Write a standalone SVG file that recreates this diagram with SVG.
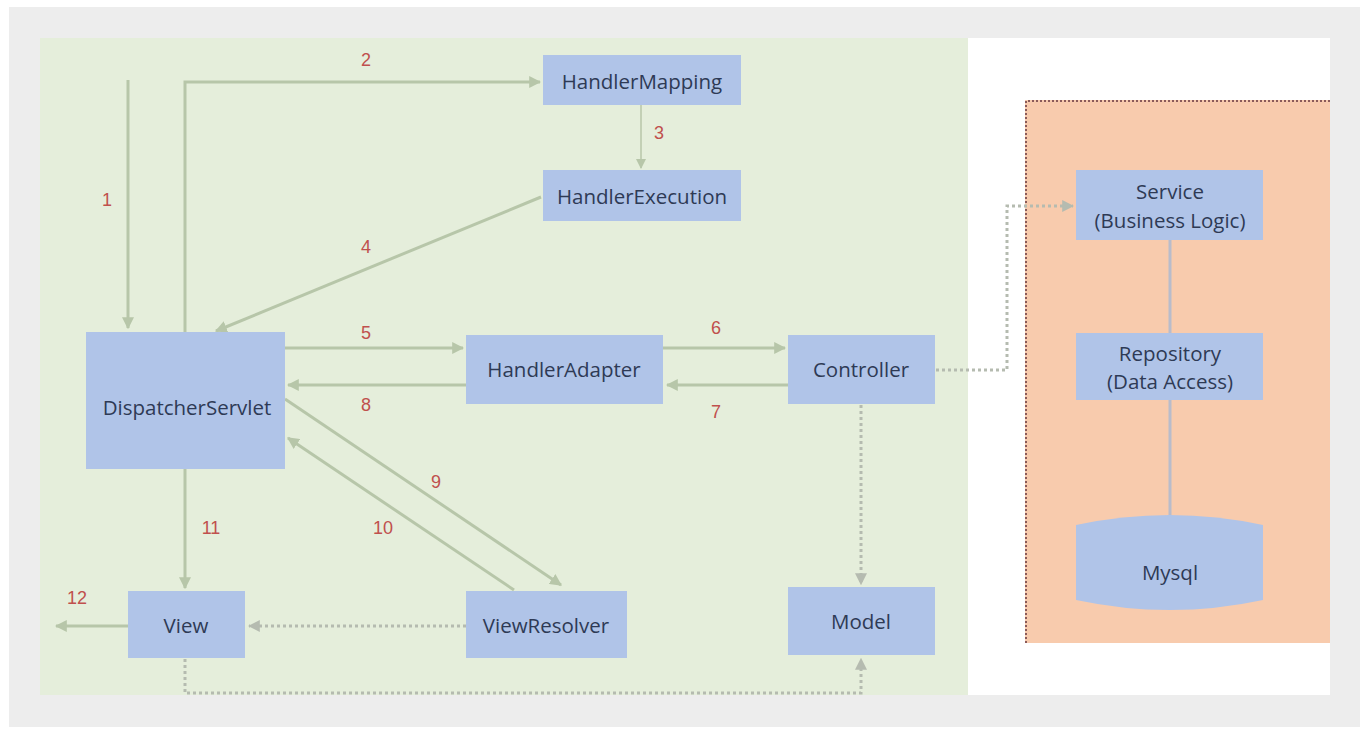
<svg xmlns="http://www.w3.org/2000/svg" width="1365" height="739" viewBox="0 0 1365 739">
<defs>
<style>
.node{fill:#b0c4e8;}
.nt{font-family:"Open Sans","Liberation Sans",sans-serif;font-size:20.5px;fill:#2e3a55;text-anchor:middle;}
.lbl{font-family:"Liberation Sans",sans-serif;font-size:18px;fill:#c0504d;text-anchor:middle;}
.c{stroke:#b7c6a9;stroke-width:3;fill:none;}
.thin{stroke:#b7c6a9;stroke-width:1.5;fill:none;}
.dot{stroke:#b5bbb0;stroke-width:3;stroke-dasharray:3 3;fill:none;}
.link{stroke:#b9bccb;stroke-width:3;fill:none;}
</style>
<marker id="ah" viewBox="0 0 10 10" refX="9" refY="5" markerWidth="4" markerHeight="4" orient="auto" markerUnits="strokeWidth"><path d="M0,0 L10,5 L0,10 z" fill="#b7c6a9"/></marker>
<marker id="ah2" viewBox="0 0 10 10" refX="9" refY="5" markerWidth="7" markerHeight="7" orient="auto" markerUnits="strokeWidth"><path d="M0,0 L10,5 L0,10 z" fill="#b7c6a9"/></marker>
<marker id="ahd" viewBox="0 0 10 10" refX="9" refY="5" markerWidth="4" markerHeight="4" orient="auto" markerUnits="strokeWidth"><path d="M0,0 L10,5 L0,10 z" fill="#b5bbb0"/></marker>
</defs>
<rect width="1365" height="739" fill="#ffffff"/>
<rect x="9" y="7" width="1351" height="720" fill="#ededed"/>
<rect x="40" y="38" width="1290" height="657" fill="#ffffff"/>
<rect x="40" y="38" width="928" height="657" fill="#e5eedb"/>
<g id="backend">
<rect x="1025" y="100" width="305" height="543" fill="#f8cbad"/>
<path d="M1026,643 L1026,101 L1330,101" fill="none" stroke="#8a5a5a" stroke-width="2" stroke-dasharray="2 2"/>
</g>
<g id="connectors">
<path class="c" d="M128,80 L128,328" marker-end="url(#ah)"/>
<path class="c" d="M185,332 L185,82 L540,82" marker-end="url(#ah)"/>
<path class="thin" d="M641,105 L641,168" marker-end="url(#ah2)"/>
<path class="c" d="M541,197 L216,331" marker-end="url(#ah)"/>
<path class="c" d="M285,348 L463,348" marker-end="url(#ah)"/>
<path class="c" d="M663,348 L785,348" marker-end="url(#ah)"/>
<path class="c" d="M788,385 L667,385" marker-end="url(#ah)"/>
<path class="c" d="M466,385 L288,385" marker-end="url(#ah)"/>
<path class="c" d="M285,399 L561,585" marker-end="url(#ah)"/>
<path class="c" d="M514,590 L288,438" marker-end="url(#ah)"/>
<path class="c" d="M185,469 L185,588" marker-end="url(#ah)"/>
<path class="c" d="M128,626 L56,626" marker-end="url(#ah)"/>
<path class="dot" d="M466,626 L249,626" marker-end="url(#ahd)"/>
<path class="dot" d="M185,659 L185,693 L861,693 L861,659" marker-end="url(#ahd)"/>
<path class="dot" d="M861,405 L861,584" marker-end="url(#ahd)"/>
<path class="dot" d="M936,370 L1007,370 L1007,206 L1073,206" marker-end="url(#ahd)"/>
<path class="link" d="M1170,240 L1170,333"/>
<path class="link" d="M1170,400 L1170,518"/>
</g>
<g id="labels">
<text class="lbl" x="107" y="206">1</text>
<text class="lbl" x="366" y="66">2</text>
<text class="lbl" x="659" y="139">3</text>
<text class="lbl" x="366" y="253">4</text>
<text class="lbl" x="366" y="339">5</text>
<text class="lbl" x="716" y="334">6</text>
<text class="lbl" x="716" y="418">7</text>
<text class="lbl" x="366" y="411">8</text>
<text class="lbl" x="436" y="488">9</text>
<text class="lbl" x="383" y="534">10</text>
<text class="lbl" x="211" y="534">11</text>
<text class="lbl" x="77" y="604">12</text>
</g>
<g id="HandlerMapping"><rect class="node" x="543" y="55" width="198" height="50"/><text class="nt" x="642" y="89">HandlerMapping</text></g>
<g id="HandlerExecution"><rect class="node" x="543" y="170" width="198" height="51"/><text class="nt" x="642" y="204">HandlerExecution</text></g>
<g id="DispatcherServlet"><rect class="node" x="86" y="332" width="199" height="137"/><text class="nt" x="187" y="415">DispatcherServlet</text></g>
<g id="HandlerAdapter"><rect class="node" x="466" y="335" width="197" height="69"/><text class="nt" x="564" y="377">HandlerAdapter</text></g>
<g id="Controller"><rect class="node" x="788" y="335" width="147" height="69"/><text class="nt" x="861" y="377">Controller</text></g>
<g id="View"><rect class="node" x="128" y="591" width="117" height="67"/><text class="nt" x="186" y="633">View</text></g>
<g id="ViewResolver"><rect class="node" x="466" y="591" width="161" height="67"/><text class="nt" x="546" y="633">ViewResolver</text></g>
<g id="Model"><rect class="node" x="788" y="587" width="147" height="68"/><text class="nt" x="861" y="629">Model</text></g>
<g id="Service"><rect class="node" x="1076" y="170" width="187" height="70"/><text class="nt" x="1170" y="199">Service</text><text class="nt" x="1170" y="228">(Business Logic)</text></g>
<g id="Repository"><rect class="node" x="1076" y="333" width="187" height="67"/><text class="nt" x="1170" y="361">Repository</text><text class="nt" x="1170" y="389">(Data Access)</text></g>
<g id="Mysql"><path class="node" d="M1076,525 Q1170,505 1263,525 L1263,600 Q1170,620 1076,600 Z"/><text class="nt" x="1170" y="580">Mysql</text></g>
</svg>
